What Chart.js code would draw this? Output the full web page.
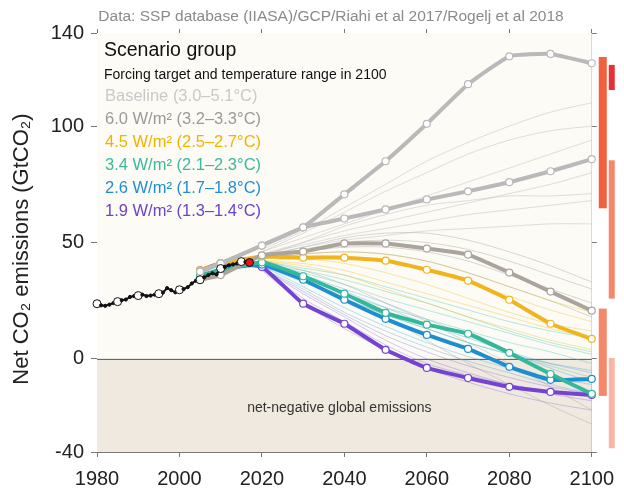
<!DOCTYPE html>
<html><head><meta charset="utf-8">
<script src="https://cdn.jsdelivr.net/npm/chart.js@4.4.0/dist/chart.umd.min.js"></script>
<style>html,body{margin:0;padding:0;background:#fff}#wrap{width:624px;height:488px}</style>
</head><body><div id="wrap"><canvas id="c" width="624" height="488"></canvas></div>
<script>
// ---- Data ----
const histYears = [1980,1981,1982,1983,1984,1985,1986,1987,1988,1989,1990,1991,1992,1993,1994,1995,1996,1997,1998,1999,2000,2001,2002,2003,2004,2005,2006,2007,2008,2009,2010,2011,2012,2013,2014,2015,2016,2017];
const histValues = [23.7,23.0,22.8,23.3,24.0,24.6,25.2,25.5,26.6,27.0,27.2,27.6,27.0,27.2,27.6,28.0,28.5,30.4,29.5,28.6,29.7,30.0,30.8,32.4,33.6,34.0,35.0,36.0,36.8,36.3,38.8,39.5,40.2,40.6,41.0,41.8,41.6,41.4];

const mainYears = [2005,2010,2020,2030,2040,2050,2060,2070,2080,2090,2100];
const baselineHigh = [37.5,41.0,48.7,56.5,70.7,84.9,101.0,118.0,130.0,131.0,127.0];
const baselineLow  = [37.5,41.0,48.7,56.5,60.3,64.2,68.5,72.0,75.9,80.6,85.8];
const forcing60 = [34.0,36.0,44.5,46.1,49.6,49.6,47.4,44.8,37.1,28.9,20.7];
const forcing45 = [38.0,41.0,44.0,43.5,43.5,42.2,38.3,33.6,25.4,15.1,8.6];
const forcing34 = [36.0,38.0,41.5,35.5,28.0,19.8,14.7,10.8,2.6,-6.5,-15.0];
const forcing26 = [35.0,38.5,40.5,34.0,25.4,17.2,10.3,4.3,-3.4,-9.0,-8.6];
const forcing19 = [38.0,41.0,39.5,23.7,15.1,3.9,-3.9,-8.2,-12.0,-14.2,-15.5];

const thinYears = [2020,2030,2040,2050,2060,2070,2080,2090,2100];
const thinBaseline = [
  [47,55,65,75,85,93,100,106,110],
  [46,52,58,64,70,76,82,88,94],
  [45,50,55,59,63,67,71,75,80],
  [45,49,53,56,59,62,64,66,68],
  [44,48,51,53,55,56,57,58,58],
  [44,50,57,62,66,68,70,70,71],
  [46,54,63,72,80,88,94,98,100]
];
const thin60 = [
  [44,47,50,51,50,47,42,36,30],
  [43,46,48,48,46,42,36,30,24],
  [43,45,46,45,42,37,31,25,18],
  [44,48,52,54,54,51,46,40,33],
  [42,36,28,18,8,-2,-11,-20,-28],
  [42,38,32,24,16,7,-2,-12,-22]
];
const thin45 = [
  [43,44,44,42,38,33,27,21,16],
  [42,43,41,37,32,26,20,15,12],
  [43,45,46,45,42,37,31,25,20],
  [42,41,38,33,28,23,18,13,9],
  [42,40,36,30,24,18,13,8,4]
];
const thin34 = [
  [41,37,32,26,21,16,11,6,2],
  [41,35,28,22,17,12,7,3,-2],
  [40,38,34,29,24,18,12,7,3],
  [41,34,26,19,13,7,2,-3,-8],
  [42,39,36,31,26,21,16,12,9]
];
const thin26 = [
  [40,33,26,19,13,7,2,-2,-5],
  [40,31,22,14,7,1,-4,-8,-11],
  [39,30,20,12,5,-1,-6,-11,-15],
  [40,35,29,22,15,9,3,-2,-6],
  [41,36,30,24,17,10,3,-4,-10]
];
const thin19 = [
  [39,26,16,6,-2,-7,-11,-14,-16],
  [39,29,19,10,3,-3,-8,-12,-15],
  [38,24,13,4,-4,-10,-15,-19,-22],
  [39,28,18,8,0,-6,-11,-15,-18]
];

const yTickValues = [-40,0,50,100,140];
const xTickValues = [1980,2000,2020,2040,2060,2080,2100];

// 2100 ranges shown as bars right of the plot
const rangeLow  = [64.7,115.5,25.9,-15.9,-38.4];
const rangeHigh = [129.7,126.3,85.3,21.6,0.4];
const rangeColumn = [0,1,1,0,1];
const rangeColors = ['#f2603f','#e5303a','#f5876a','#f5876a','#f8b7a6'];

const legendTitle = 'Scenario group';
const legendSubtitle = 'Forcing target and temperature range in 2100';
const legendItems = ['Baseline (3.0\u20135.1\u00b0C)','6.0 W/m\u00b2 (3.2\u20133.3\u00b0C)','4.5 W/m\u00b2 (2.5\u20132.7\u00b0C)','3.4 W/m\u00b2 (2.1\u20132.3\u00b0C)','2.6 W/m\u00b2 (1.7\u20131.8\u00b0C)','1.9 W/m\u00b2 (1.3\u20131.4\u00b0C)'];
const legendColors = ['#c9c9c9','#9a9a9a','#f0b400','#3bb99e','#1f8fcf','#6a44c9'];

const sourceText = 'Data: SSP database (IIASA)/GCP/Riahi et al 2017/Rogelj et al 2018';
const yTitle = 'Net CO\u2082 emissions (GtCO\u2082)';
const negText = 'net-negative global emissions';

// ---- Build datasets ----
const FONT = '"Liberation Sans", Arial, Helvetica, sans-serif';
const pts = (xs, ys) => xs.map((x,i)=>({x:x,y:ys[i]}));
const datasets = [];

function addThin(group, color){
  group.forEach(v=>datasets.push({data:pts(thinYears,v),borderColor:color,borderWidth:1,pointRadius:0,order:10,tension:0.3}));
}
addThin(thinBaseline,'rgba(185,185,185,0.45)');
addThin(thin60,'rgba(165,160,150,0.40)');
addThin(thin45,'rgba(240,200,60,0.45)');
addThin(thin34,'rgba(80,200,175,0.40)');
addThin(thin26,'rgba(60,160,220,0.35)');
addThin(thin19,'rgba(130,100,220,0.35)');

function addMain(vals,color){
  datasets.push({data:pts(mainYears,vals),borderColor:color,borderWidth:4,pointRadius:3.5,tension:0.12,
    pointBackgroundColor:'#ffffff',pointBorderColor:color,pointBorderWidth:1.2,order:2,clip:false});
}
addMain(baselineLow,'#b9b9b9');
addMain(baselineHigh,'#b9b9b9');
addMain(forcing60,'#aaa49c');
addMain(forcing45,'#f0b41e');
addMain(forcing34,'#33b89a');
addMain(forcing26,'#1c8fd0');
addMain(forcing19,'#7444d0');

datasets.push({data:pts(histYears,histValues),borderColor:'#111',borderWidth:2,order:0,clip:false,tension:0,
  pointRadius:ctx=>{const y=histYears[ctx.dataIndex];return (y===2017)?4:(y%5===0?4:1.6);},
  pointBackgroundColor:ctx=>{const y=histYears[ctx.dataIndex];return y===2017?'#e8101a':(y%5===0?'#ffffff':'#111');},
  pointBorderColor:'#111',pointBorderWidth:1});

// ---- Plugins ----
const decor = {
  id:'decor',
  beforeDatasetsDraw(chart){
    const {ctx,chartArea:a,scales:{y}} = chart;
    const y0 = y.getPixelForValue(0);
    ctx.save();
    ctx.fillStyle='#fcfbf6';
    ctx.fillRect(a.left,a.top,a.right-a.left,y0-a.top);
    ctx.fillStyle='#f0e9df';
    ctx.fillRect(a.left,y0,a.right-a.left,a.bottom-y0);
    ctx.strokeStyle='#555';ctx.lineWidth=1;
    ctx.beginPath();ctx.moveTo(a.left,y0+0.5);ctx.lineTo(a.right,y0+0.5);ctx.stroke();
    ctx.fillStyle='#333';ctx.font='14px '+FONT;ctx.textAlign='center';ctx.textBaseline='middle';
    ctx.fillText(negText,(a.left+a.right)/2-5,y.getPixelForValue(-21));
    ctx.restore();
  },
  afterDraw(chart){
    const {ctx,chartArea:a,scales:{y}} = chart;
    ctx.save();
    // range bars
    rangeLow.forEach((lo,i)=>{
      const top=y.getPixelForValue(rangeHigh[i]), bot=y.getPixelForValue(lo);
      const x = a.right + (rangeColumn[i]===0?7:17);
      ctx.fillStyle=rangeColors[i];
      ctx.fillRect(x,top,rangeColumn[i]===0?8:6,bot-top);
    });
    // source text
    ctx.fillStyle='#8a8a8a';ctx.font='15.5px '+FONT;ctx.textAlign='center';ctx.textBaseline='middle';
    ctx.fillText(sourceText,331,17);
    // y title
    ctx.translate(28,249);ctx.rotate(-Math.PI/2);
    ctx.fillStyle='#222';ctx.font='22px '+FONT;ctx.textAlign='center';ctx.textBaseline='alphabetic';
    ctx.fillText(yTitle,0,0);
    ctx.restore();
    // legend
    ctx.save();
    ctx.textAlign='left';ctx.textBaseline='alphabetic';
    ctx.fillStyle='#111';ctx.font='19.5px '+FONT;
    ctx.fillText(legendTitle,104,56);
    ctx.font='500 14px '+FONT;
    ctx.fillText(legendSubtitle,104,79);
    ctx.font='16.5px '+FONT;
    legendItems.forEach((t,i)=>{ctx.fillStyle=legendColors[i];ctx.fillText(t,105,101+i*23);});
    ctx.restore();
  }
};

const gridCommon = {drawOnChartArea:false,drawTicks:true,color:'#777',tickColor:'#777',lineWidth:1};
new Chart(document.getElementById('c'),{
  type:'line',
  data:{datasets:datasets},
  options:{
    responsive:false,animation:false,
    layout:{padding:0},
    plugins:{legend:{display:false},tooltip:{enabled:false},title:{display:false}},
    scales:{
      x:{type:'linear',position:'bottom',min:1980,max:2100,
        afterBuildTicks:s=>{s.ticks=xTickValues.map(v=>({value:v}));},
        afterFit:s=>{s.height=36;},
        grid:Object.assign({},gridCommon,{tickLength:5}),
        border:{display:true,color:'#777'},
        ticks:{color:'#222',font:{size:20,family:FONT},padding:10,maxRotation:0,callback:v=>String(v)}},
      xTop:{type:'linear',position:'top',min:1980,max:2100,
        afterBuildTicks:s=>{s.ticks=xTickValues.map(v=>({value:v}));},
        afterFit:s=>{s.height=33;},
        grid:Object.assign({},gridCommon,{tickLength:4}),
        border:{display:true,color:'#777'},
        ticks:{display:false}},
      y:{type:'linear',position:'left',min:-40,max:140,
        afterBuildTicks:s=>{s.ticks=yTickValues.map(v=>({value:v}));},
        afterFit:s=>{s.width=97;},
        grid:Object.assign({},gridCommon,{tickLength:6}),
        border:{display:true,color:'#777'},
        ticks:{color:'#222',font:{size:20,family:FONT},padding:7}},
      yRight:{type:'linear',position:'right',min:-40,max:140,
        afterBuildTicks:s=>{s.ticks=yTickValues.map(v=>({value:v}));},
        afterFit:s=>{s.width=21;},
        grid:Object.assign({},gridCommon,{tickLength:5}),
        border:{display:true,color:'#777'},
        ticks:{display:false}}
    }
  },
  plugins:[decor]
});
</script></body></html>
